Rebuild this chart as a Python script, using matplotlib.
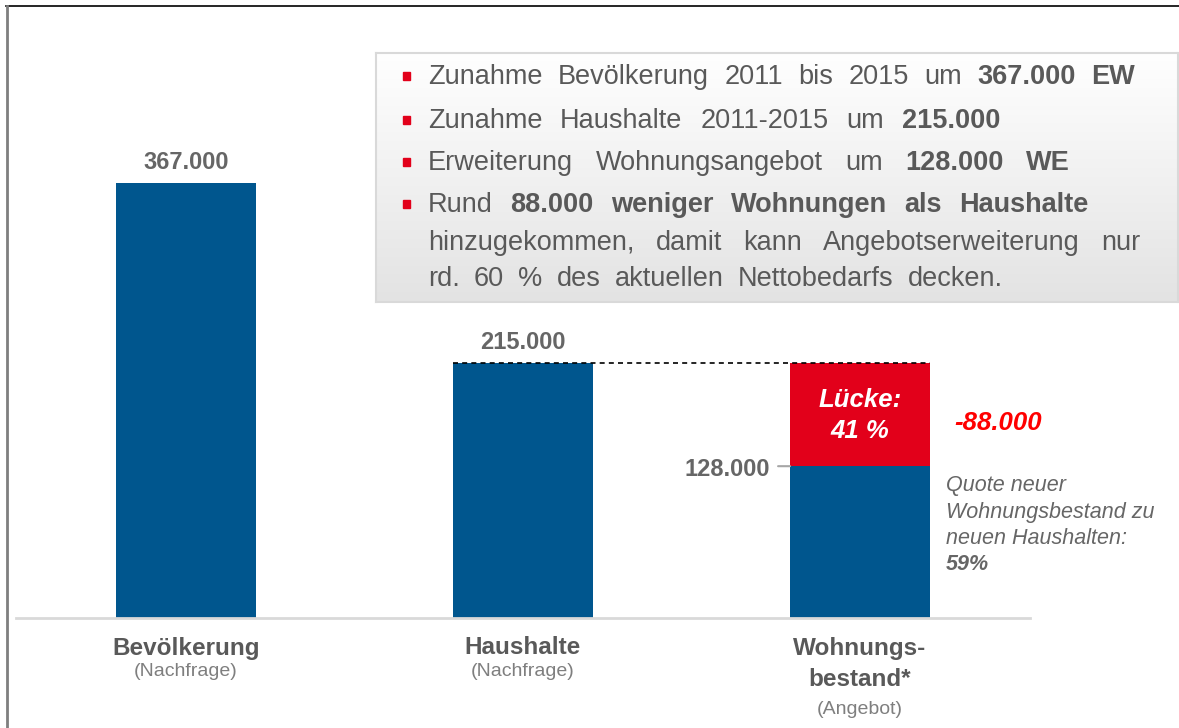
import matplotlib
matplotlib.use("Agg")
import matplotlib.pyplot as plt
import matplotlib.transforms as mtransforms
import numpy as np
from matplotlib.patches import Rectangle
from matplotlib.lines import Line2D

# ---------------- data ----------------
categories = ["Bevölkerung", "Haushalte", "Wohnungs-\nbestand*"]
subtitles = ["(Nachfrage)", "(Nachfrage)", "(Angebot)"]
values = [367000, 215000, 128000]
value_labels = ["367.000", "215.000", "128.000"]
gap_top = 215000          # households level the supply is compared against
gap_label = "-88.000"
gap_text = ["Lücke:", "41 %"]
quote_lines = ["Quote neuer", "Wohnungsbestand zu", "neuen Haushalten:"]
quote_value = "59%"
box_lines = [
    [("Zunahme Bevölkerung 2011 bis 2015 um", False), ("367.000 EW", True)],
    [("Zunahme Haushalte 2011-2015 um", False), ("215.000", True)],
    [("Erweiterung Wohnungsangebot um", False), ("128.000 WE", True)],
    [("Rund", False), ("88.000 weniger Wohnungen als Haushalte", True)],
    [("hinzugekommen, damit kann Angebotserweiterung nur", False)],
    [("rd. 60 % des aktuellen Nettobedarfs decken.", False)],
]
bullets = [True, True, True, True, False, False]

# ---------------- style ----------------
BLUE = "#00568e"
RED = "#e2001a"
GRAY = "#666666"
DGRAY = "#595959"
W, H = 1179, 728
plt.rcParams["font.family"] = ["Liberation Sans", "DejaVu Sans"]

fig = plt.figure(figsize=(W / 100, H / 100), dpi=100)
fig.patch.set_facecolor("white")


def fx(x):
    return x / W


def fy(y):
    return 1 - y / H


PX = 0.72  # points per pixel at 100 dpi

# main axes: x 16..1030 px, y 6..618 px
ax_l, ax_r, ax_t, ax_b = 16, 1030, 6, 618
ax = fig.add_axes([fx(ax_l), fy(ax_b), fx(ax_r - ax_l), (ax_b - ax_t) / H])
ax.set_facecolor("none")
ax.set_xlim(-0.5045, 2.5045)
ax.set_ylim(0, 516000)
for s in ["top", "right", "left"]:
    ax.spines[s].set_visible(False)
ax.spines["bottom"].set_color("#d9d9d9")
ax.spines["bottom"].set_linewidth(2)
ax.set_xticks([])
ax.set_yticks([])

x = np.arange(len(categories))
bw = 0.415
ax.bar(x, values, width=bw, color=BLUE, zorder=2)
# gap on the supply bar
ax.bar(x[2], gap_top - values[2], bottom=values[2], width=bw, color=RED, zorder=2)

# dashed reference line at households level
ax.plot([x[1] - bw / 2, x[2] + bw / 2], [gap_top, gap_top], ls=(0, (3, 2.5)),
        color="black", lw=1.2, zorder=3)

# value labels
for i in (0, 1):
    ax.annotate(value_labels[i], (x[i], values[i]), xytext=(0, 9 * PX),
                textcoords="offset points", ha="center", va="bottom",
                fontsize=17, fontweight="bold", color=GRAY)
# 128.000 side label with tick
ax.annotate("", (x[2] - bw / 2, values[2]), xytext=(-12 * PX, 0),
            textcoords="offset points",
            arrowprops=dict(arrowstyle="-", color="#a6a6a6", lw=1.5,
                            shrinkA=0, shrinkB=0))
ax.annotate(value_labels[2], (x[2] - bw / 2, values[2]), xytext=(-20 * PX, -3 * PX),
            textcoords="offset points", ha="right", va="center",
            fontsize=17, fontweight="bold", color=GRAY)

# gap text
mid = (values[2] + gap_top) / 2
for k, t in enumerate(gap_text):
    ax.annotate(t, (x[2], mid), xytext=(0, (15.5 - 31 * k) * PX - 1 * PX),
                textcoords="offset points", ha="center", va="center",
                fontsize=18.5, fontweight="bold", fontstyle="italic",
                color="white")
ax.annotate(gap_label, (x[2] + bw / 2, mid), xytext=(24 * PX, -8 * PX),
            textcoords="offset points", ha="left", va="center",
            fontsize=18.5, fontweight="bold", fontstyle="italic",
            color="#ff0000")

# quote text
qx = fx(946)
for k, line in enumerate(quote_lines):
    fig.text(qx, fy(486 + 26.3 * k), line, ha="left", va="center",
             fontsize=15.5, fontstyle="italic", color=GRAY)
fig.text(qx, fy(486 + 26.3 * 3), quote_value, ha="left", va="center",
         fontsize=15.5, fontstyle="italic", fontweight="bold", color=GRAY)

# category labels
trans = mtransforms.blended_transform_factory(ax.transData, fig.transFigure)
for i, (cat, sub) in enumerate(zip(categories, subtitles)):
    parts = cat.split("\n")
    for k, p in enumerate(parts):
        fig.text(x[i], fy(648 + 32 * k), p, transform=trans, ha="center",
                 va="center", fontsize=17.5, fontweight="bold", color=DGRAY)
    fig.text(x[i], fy(672 + 38 * (len(parts) - 1)), sub, transform=trans,
             ha="center", va="center", fontsize=14, color="#7f7f7f")

# ---------------- text box ----------------
bx0, bx1, by0, by1 = 376, 1178, 53, 302
bax = fig.add_axes([fx(bx0), fy(by1), fx(bx1 - bx0), (by1 - by0) / H])
grad = np.linspace(1.0, 0.89, 256).reshape(-1, 1)
bax.imshow(np.dstack([grad, grad, grad]), aspect="auto", extent=[0, 1, 0, 1])
bax.set_xticks([])
bax.set_yticks([])
for s in bax.spines.values():
    s.set_color("#d9d9d9")
    s.set_linewidth(1.5)

line_y = [77, 121, 163, 205, 243, 279]
line_end = [1135, 1000, 1070, 1088, 1140, 1003]
x_start = 428
renderer = fig.canvas.get_renderer()
for yy, x_end, segs, bl in zip(line_y, line_end, box_lines, bullets):
    if bl:
        fig.patches.append(Rectangle((fx(403), fy(yy + 3)), fx(7), 8 / H,
                                     transform=fig.transFigure, color=RED,
                                     zorder=5))
    words = []
    for txt, bold in segs:
        for w in txt.split(" "):
            words.append((w, bold))
    objs = []
    widths = []
    for w, bold in words:
        t = fig.text(0, fy(yy), w, ha="left", va="center", fontsize=19.5,
                     color=DGRAY, fontweight="bold" if bold else "normal",
                     zorder=6)
        objs.append(t)
        widths.append(t.get_window_extent(renderer).width)
    gap = (x_end - x_start - sum(widths)) / max(len(words) - 1, 1)
    cur = x_start
    for t, wdt in zip(objs, widths):
        t.set_x(fx(cur))
        cur += wdt + gap

# ---------------- frame lines ----------------
fig.add_artist(Line2D([fx(6), 1], [fy(6), fy(6)], transform=fig.transFigure,
                      color="black", lw=1.2))
fig.add_artist(Line2D([fx(7), fx(7)], [fy(6), 0], transform=fig.transFigure,
                      color="#7f7f7f", lw=2))

fig.savefig("out.png", dpi=100)
